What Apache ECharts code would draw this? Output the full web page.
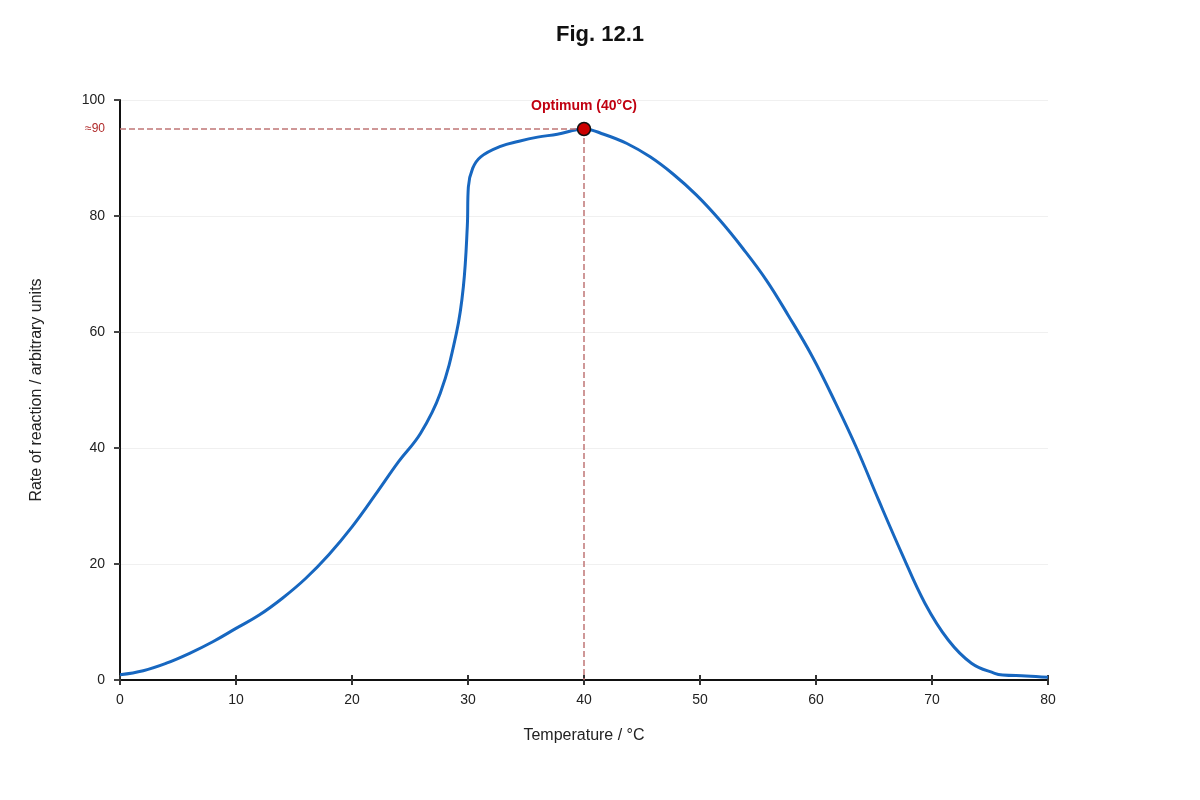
<!DOCTYPE html>
<html>
<head>
<meta charset="utf-8">
<script src="https://cdn.jsdelivr.net/npm/echarts@6/dist/echarts.min.js"></script>
<style>
    html, body { margin: 0; padding: 0; background: #fff; }
    #chart { width: 1200px; height: 800px; }
</style>
</head>
<body>
<div id="chart"></div>
<script>
// temperature (°C) and rate of reaction
const temps = [0, 2, 4, 6, 8, 10, 12, 14, 16, 18, 20, 22, 24, 25.9, 27.6, 29, 29.6, 29.94, 30.03, 30.4, 31.1, 32.8, 34.4, 36, 37.7, 40,
    41.7, 43.7, 45.7, 47.7, 49.7, 51.7, 53.7, 55.7, 57.6, 59.7, 61.7, 63.5, 65.4, 67.4, 69.4, 71.4, 73.4, 75.4, 76.1, 78.1, 80];
const rates = [0.9, 1.6, 2.9, 4.6, 6.6, 8.9, 11.2, 14.1, 17.5, 21.6, 26.4, 31.9, 37.6, 42.5, 49.4, 59.8, 67.8, 78.2, 85, 88.2, 90.2, 92, 92.9, 93.6, 94.1, 95,
    94.1, 92.5, 90.2, 87.2, 83.6, 79.3, 74.4, 69, 62.9, 55.7, 47.7, 40, 31, 21.8, 13.2, 6.9, 2.9, 1.15, 0.86, 0.7, 0.46];

const optimum = [40, 95];
const xTicks = [0, 80, 10];
const yTicks = [0, 100, 20];

const points = [];
for (let i = 0; i < temps.length; i++) {
    points.push([temps[i], rates[i]]);
}

const chart = echarts.init(document.getElementById('chart'));

const axisFont = { fontFamily: 'Liberation Sans, Arial, sans-serif', fontSize: 14, color: '#222' };

const option = {
    animation: false,
    title: {
        text: 'Fig. 12.1',
        left: 'center',
        top: 19,
        textStyle: { fontFamily: 'Liberation Sans, Arial, sans-serif', fontSize: 22, fontWeight: 'bold', color: '#111' }
    },
    grid: { left: 120, right: 152, top: 100, bottom: 120 },
    xAxis: [{
        type: 'value',
        min: xTicks[0], max: xTicks[1], interval: xTicks[2],
        name: 'Temperature / °C',
        nameLocation: 'middle',
        nameGap: 48,
        nameTextStyle: { fontFamily: 'Liberation Sans, Arial, sans-serif', fontSize: 16, color: '#222' },
        axisLine: { lineStyle: { color: '#111', width: 2 } },
        axisTick: { show: true, length: 5, lineStyle: { color: '#333', width: 2 } },
        axisLabel: Object.assign({ margin: 13 }, axisFont),
        splitLine: { show: false }
    }, {
        // inner half of the x ticks
        type: 'value',
        position: 'bottom',
        min: xTicks[0], max: xTicks[1], interval: xTicks[2],
        axisLine: { show: false },
        axisTick: { show: true, inside: true, length: 5, lineStyle: { color: '#333', width: 2 } },
        axisLabel: { show: false },
        splitLine: { show: false }
    }],
    yAxis: {
        type: 'value',
        min: yTicks[0], max: yTicks[1], interval: yTicks[2],
        name: 'Rate of reaction / arbitrary units',
        nameLocation: 'middle',
        nameGap: 75,
        nameTextStyle: { fontFamily: 'Liberation Sans, Arial, sans-serif', fontSize: 16, color: '#222' },
        axisLine: { show: true, lineStyle: { color: '#111', width: 2 } },
        axisTick: { show: true, length: 6, lineStyle: { color: '#444', width: 2 } },
        axisLabel: Object.assign({ margin: 15 }, axisFont),
        splitLine: { show: true, lineStyle: { color: '#f0f0f0', width: 1 } }
    },
    series: [{
        type: 'line',
        data: points,
        smooth: 0.4,
        showSymbol: false,
        lineStyle: { color: '#1767c0', width: 3 },
        z: 3,
        markLine: {
            silent: true,
            symbol: 'none',
            lineStyle: { color: '#c07575', type: 'dashed', width: 1.5 },
            data: [
                [
                    { coord: [xTicks[0], optimum[1]], label: { show: true, position: 'start', formatter: '≈90', distance: 15, color: '#b02a2a', fontSize: 12, fontFamily: 'Liberation Sans, Arial, sans-serif' } },
                    { coord: [optimum[0], optimum[1]] }
                ],
                [
                    { coord: [optimum[0], optimum[1]], label: { show: false } },
                    { coord: [optimum[0], yTicks[0]] }
                ]
            ]
        },
        markPoint: {
            silent: true,
            symbol: 'circle',
            symbolSize: 13,
            itemStyle: { color: '#cc0000', borderColor: '#111', borderWidth: 1.5 },
            label: {
                show: true,
                position: 'top',
                distance: 9,
                formatter: 'Optimum (40°C)',
                color: '#c00010',
                fontWeight: 'bold',
                fontSize: 14,
                fontFamily: 'Liberation Sans, Arial, sans-serif'
            },
            data: [{ coord: optimum }]
        }
    }]
};

chart.setOption(option);
</script>
</body>
</html>
